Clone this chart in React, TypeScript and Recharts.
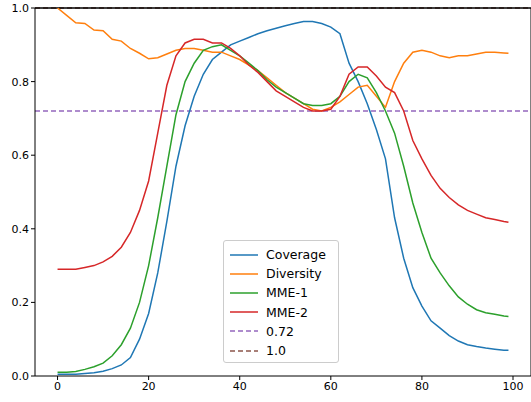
import React from "react";
import { LineChart, Line, XAxis, YAxis, ReferenceLine } from "recharts";

const xs = [0,2,4,6,8,10,12,14,16,18,20,22,24,26,28,30,32,34,36,38,40,42,44,46,48,50,52,54,56,58,60,62,64,66,68,70,72,74,76,78,80,82,84,86,88,90,92,94,96,98,99];
const coverage = [.005,.005,.005,.007,.009,.013,.02,.03,.05,.1,.17,.28,.42,.57,.68,.76,.82,.86,.88,.9,.91,.92,.93,.938,.945,.952,.958,.963,.963,.958,.948,.93,.85,.8,.74,.67,.59,.43,.32,.24,.19,.15,.13,.11,.095,.085,.08,.076,.073,.07,.07];
const diversity = [1.0,.98,.96,.958,.94,.938,.915,.91,.89,.877,.862,.865,.875,.885,.89,.89,.885,.88,.88,.87,.86,.845,.83,.81,.79,.77,.755,.74,.725,.72,.73,.745,.765,.785,.79,.76,.73,.8,.85,.88,.885,.88,.87,.865,.87,.87,.875,.88,.88,.878,.877];
const mme1 = [.01,.01,.012,.018,.025,.035,.055,.085,.13,.2,.3,.43,.57,.71,.8,.85,.885,.895,.9,.885,.87,.85,.83,.805,.785,.77,.755,.74,.735,.735,.74,.76,.8,.82,.81,.77,.72,.66,.57,.47,.39,.32,.28,.245,.215,.195,.18,.172,.168,.163,.162];
const mme2 = [.29,.29,.29,.295,.3,.31,.325,.35,.39,.45,.53,.66,.79,.87,.905,.915,.915,.905,.905,.89,.87,.845,.825,.8,.775,.76,.745,.73,.72,.72,.725,.76,.82,.84,.84,.815,.785,.77,.72,.64,.59,.545,.51,.485,.465,.45,.44,.43,.425,.42,.418];
const xTicks = [0,20,40,60,80,100];
const yTicks = [0,0.2,0.4,0.6,0.8,1.0];

const data = xs.map((x, i) => ({ x, coverage: coverage[i], diversity: diversity[i], mme1: mme1[i], mme2: mme2[i] }));

const legendItems = [
  { label: "Coverage", color: "#1f77b4", dash: "" },
  { label: "Diversity", color: "#ff7f0e", dash: "" },
  { label: "MME-1", color: "#2ca02c", dash: "" },
  { label: "MME-2", color: "#d62728", dash: "" },
  { label: "0.72", color: "#9467bd", dash: "5 3" },
  { label: "1.0", color: "#8c564b", dash: "5 3" },
];

const font = "DejaVu Sans";

export default function App() {
  return (
    <div style={{ position: "absolute", left: 0, top: 0, width: 531, height: 402, background: "#fff", fontFamily: font }}>
      <LineChart width={532} height={402} data={data} margin={{ top: 8, right: 0, bottom: 0, left: 0 }}>
        <XAxis dataKey="x" type="number" domain={[-4.95, 103.95]} ticks={xTicks} allowDataOverflow
          height={26} tick={{ fill: "#000", fontSize: 11, fontFamily: font }} stroke="#000" tickSize={4} tickLine={{ stroke: "#000" }} />
        <XAxis xAxisId="top" orientation="top" dataKey="x" type="number" domain={[-4.95, 103.95]} height={0} tick={false} stroke="#000" />
        <YAxis type="number" domain={[0, 1]} ticks={yTicks} width={35} allowDataOverflow
          tickFormatter={(v: number) => v.toFixed(1)}
          tick={{ fill: "#000", fontSize: 11, fontFamily: font }} stroke="#000" tickSize={4} />
        <YAxis yAxisId="right" orientation="right" domain={[0, 1]} width={1} tick={false} stroke="#000" />
        <ReferenceLine y={0.72} stroke="#9467bd" strokeDasharray="5 3" strokeWidth={1.5} />
        <ReferenceLine y={1.0} stroke="#8c564b" strokeDasharray="5 3" strokeWidth={1.5} />
        <ReferenceLine y={1.0} stroke="#000" strokeWidth={1.6} />
        <Line dataKey="coverage" stroke="#1f77b4" strokeWidth={1.5} dot={false} isAnimationActive={false} />
        <Line dataKey="diversity" stroke="#ff7f0e" strokeWidth={1.5} dot={false} isAnimationActive={false} />
        <Line dataKey="mme1" stroke="#2ca02c" strokeWidth={1.5} dot={false} isAnimationActive={false} />
        <Line dataKey="mme2" stroke="#d62728" strokeWidth={1.5} dot={false} isAnimationActive={false} />
      </LineChart>
      <div style={{ position: "absolute", left: 223, top: 240, width: 116, height: 123, border: "1px solid #ccc", borderRadius: 3, background: "rgba(255,255,255,0.8)", boxSizing: "border-box", padding: "4px 6px" }}>
        {legendItems.map((it) => (
          <div key={it.label} style={{ display: "flex", alignItems: "center", height: 19.2, fontSize: 12.5 }}>
            <svg width={28} height={10} style={{ marginRight: 8 }}>
              <line x1={0} y1={5} x2={28} y2={5} stroke={it.color} strokeWidth={1.5} strokeDasharray={it.dash || undefined} />
            </svg>
            <span>{it.label}</span>
          </div>
        ))}
      </div>
    </div>
  );
}
